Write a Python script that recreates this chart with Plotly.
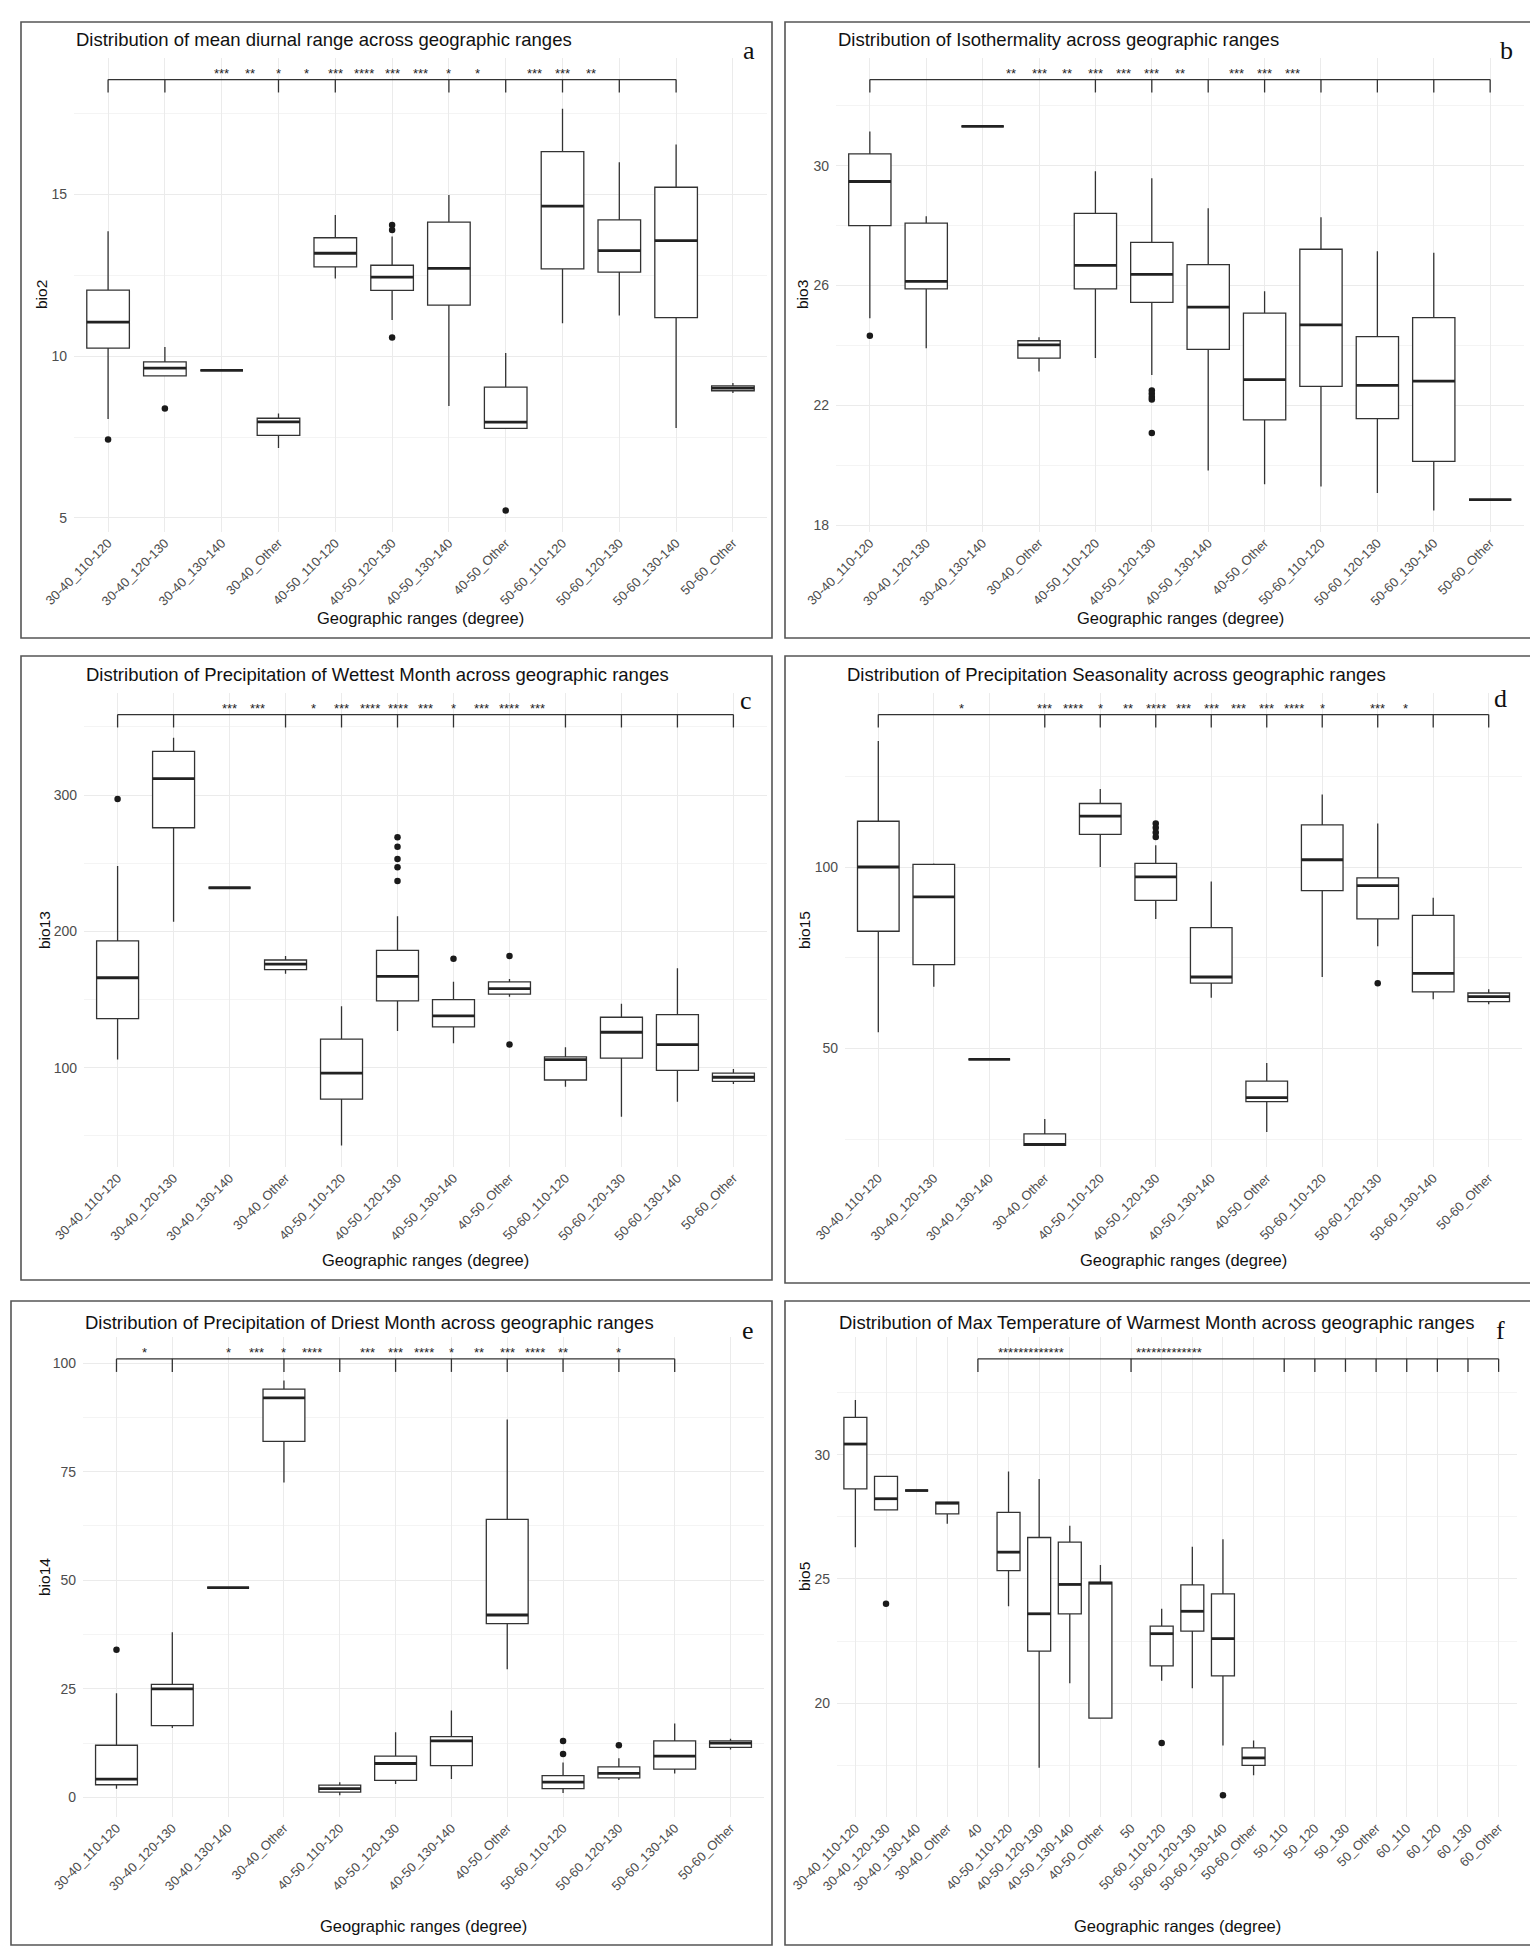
import plotly.graph_objects as go

W, H = 1538, 1949

CATS12 = ["30-40_110-120", "30-40_120-130", "30-40_130-140", "30-40_Other",
          "40-50_110-120", "40-50_120-130", "40-50_130-140", "40-50_Other",
          "50-60_110-120", "50-60_120-130", "50-60_130-140", "50-60_Other"]
CATS22 = ["30-40_110-120", "30-40_120-130", "30-40_130-140", "30-40_Other", "40",
          "40-50_110-120", "40-50_120-130", "40-50_130-140", "40-50_Other", "50",
          "50-60_110-120", "50-60_120-130", "50-60_130-140", "50-60_Other",
          "50_110", "50_120", "50_130", "50_Other", "60_110", "60_120", "60_130", "60_Other"]

# ---------------- panel a : bio2 ----------------
A_LOW = [8.06, 9.39, 9.56, 7.16, 12.40, 11.12, 8.46, 7.77, 11.02, 11.26, 7.78, 8.86]
A_Q1 = [10.25, 9.39, 9.56, 7.55, 12.76, 12.03, 11.58, 7.77, 12.70, 12.60, 11.19, 8.93]
A_MED = [11.05, 9.63, 9.56, 7.97, 13.18, 12.44, 12.71, 7.96, 14.64, 13.26, 13.57, 9.01]
A_Q3 = [12.04, 9.82, 9.56, 8.08, 13.66, 12.81, 14.14, 9.04, 16.32, 14.21, 15.22, 9.08]
A_HIGH = [13.86, 10.28, 9.56, 8.23, 14.36, 13.70, 14.98, 10.10, 17.65, 15.99, 16.54, 9.17]
A_OUT_X = ["30-40_110-120", "30-40_120-130", "40-50_120-130", "40-50_120-130", "40-50_120-130", "40-50_Other"]
A_OUT_Y = [7.42, 8.38, 14.05, 13.90, 10.58, 5.23]
A_TICKS = [0, 1, 3, 4, 6, 7, 8, 9, 10]
A_SIG_POS = [2, 2.5, 3, 3.5, 4, 4.5, 5, 5.5, 6, 6.5, 7.5, 8, 8.5]
A_SIG_LAB = ["***", "**", "*", "*", "***", "****", "***", "***", "*", "*", "***", "***", "**"]
A_BRACKET = 18.55
A_YTICKS = [5, 10, 15]
A_YMINOR = [7.5, 12.5, 17.5]

# ---------------- panel b : bio3 ----------------
B_LOW = [24.91, 23.91, 31.31, 23.13, 23.58, 23.02, 19.83, 19.37, 19.30, 19.08, 18.50, 18.86]
B_Q1 = [28.00, 25.89, 31.31, 23.58, 25.89, 25.44, 23.87, 21.52, 22.64, 21.56, 20.14, 18.86]
B_MED = [29.47, 26.14, 31.31, 24.02, 26.67, 26.37, 25.28, 22.86, 24.69, 22.67, 22.81, 18.86]
B_Q3 = [30.39, 28.08, 31.31, 24.16, 28.41, 27.44, 26.70, 25.08, 27.21, 24.30, 24.93, 18.86]
B_HIGH = [31.14, 28.31, 31.31, 24.28, 29.81, 29.58, 28.58, 25.81, 28.28, 27.14, 27.09, 18.86]
B_OUT_X = ["30-40_110-120", "40-50_120-130", "40-50_120-130", "40-50_120-130", "40-50_120-130", "40-50_120-130"]
B_OUT_Y = [24.33, 22.50, 22.39, 22.28, 22.20, 21.08]
B_TICKS = [0, 4, 5, 6, 7, 8, 9, 10, 11]
B_SIG_POS = [2.5, 3, 3.5, 4, 4.5, 5, 5.5, 6.5, 7, 7.5]
B_SIG_LAB = ["**", "***", "**", "***", "***", "***", "**", "***", "***", "***"]
B_BRACKET = 32.87
B_YTICKS = [18, 22, 26, 30]
B_YMINOR = [20, 24, 28, 32]

# ---------------- panel c : bio13 ----------------
C_LOW = [106, 207, 232, 169, 43, 127, 118, 152, 86, 64, 75, 88]
C_Q1 = [136, 276, 232, 172, 77, 149, 130, 154, 91, 107, 98, 90]
C_MED = [166, 312, 232, 176, 96, 167, 138, 158, 106, 126, 117, 93]
C_Q3 = [193, 332, 232, 179, 121, 186, 150, 163, 108, 137, 139, 96]
C_HIGH = [248, 342, 232, 182, 145, 211, 163, 165, 115, 147, 173, 99]
C_OUT_X = ["30-40_110-120", "40-50_120-130", "40-50_120-130", "40-50_120-130", "40-50_120-130",
           "40-50_120-130", "40-50_130-140", "40-50_Other", "40-50_Other"]
C_OUT_Y = [297, 269, 262, 253, 247, 237, 180, 182, 117]
C_TICKS = [0, 1, 3, 4, 5, 6, 8, 9, 10, 11]
C_SIG_POS = [2, 2.5, 3.5, 4, 4.5, 5, 5.5, 6, 6.5, 7, 7.5]
C_SIG_LAB = ["***", "***", "*", "***", "****", "****", "***", "*", "***", "****", "***"]
C_BRACKET = 359
C_YTICKS = [100, 200, 300]
C_YMINOR = [50, 150, 250, 350]

# ---------------- panel d : bio15 ----------------
D_LOW = [54.5, 67.0, 47.0, 23.3, 100.0, 85.7, 64.0, 27.0, 69.7, 78.2, 63.6, 62.2]
D_Q1 = [82.3, 73.1, 47.0, 23.3, 109.0, 90.8, 68.0, 35.4, 93.5, 85.7, 65.6, 62.9]
D_MED = [100.0, 91.8, 47.0, 23.6, 114.0, 97.3, 69.7, 36.5, 102.0, 94.9, 70.7, 64.3]
D_Q3 = [112.6, 100.7, 47.0, 26.5, 117.5, 101.0, 83.3, 41.0, 111.6, 97.0, 86.7, 65.3]
D_HIGH = [134.7, 101.0, 47.0, 30.6, 121.5, 106.0, 96.0, 46.0, 120.0, 112.0, 91.5, 66.3]
D_OUT_X = ["40-50_120-130", "40-50_120-130", "40-50_120-130", "40-50_120-130", "50-60_120-130"]
D_OUT_Y = [112.0, 110.8, 109.5, 108.3, 68.0]
D_TICKS = [0, 3, 4, 5, 6, 7, 8, 9, 10, 11]
D_SIG_POS = [1.5, 3, 3.5, 4, 4.5, 5, 5.5, 6, 6.5, 7, 7.5, 8, 9, 9.5]
D_SIG_LAB = ["*", "***", "****", "*", "**", "****", "***", "***", "***", "***", "****", "*", "***", "*"]
D_BRACKET = 142
D_YTICKS = [50, 100]
D_YMINOR = [25, 75, 125]

# ---------------- panel e : bio14 ----------------
E_LOW = [2.0, 16.0, 48.3, 72.5, 0.5, 3.1, 4.2, 29.5, 1.0, 4.0, 5.5, 11.0]
E_Q1 = [2.9, 16.5, 48.3, 82.0, 1.2, 3.9, 7.3, 40.0, 2.0, 4.5, 6.5, 11.5]
E_MED = [4.2, 25.0, 48.3, 92.0, 2.0, 7.8, 13.0, 42.0, 3.5, 5.5, 9.5, 12.5]
E_Q3 = [12.0, 26.0, 48.3, 94.0, 2.8, 9.5, 14.0, 64.0, 5.0, 7.0, 13.0, 13.0]
E_HIGH = [24.0, 38.0, 48.3, 96.0, 3.5, 15.0, 20.0, 87.0, 8.0, 9.0, 17.0, 13.5]
E_OUT_X = ["30-40_110-120", "50-60_110-120", "50-60_110-120", "50-60_120-130"]
E_OUT_Y = [34.0, 10.0, 13.0, 12.0]
E_TICKS = [0, 1, 3, 4, 5, 6, 7, 8, 9, 10]
E_SIG_POS = [0.5, 2, 2.5, 3, 3.5, 4.5, 5, 5.5, 6, 6.5, 7, 7.5, 8, 9]
E_SIG_LAB = ["*", "*", "***", "*", "****", "***", "***", "****", "*", "**", "***", "****", "**", "*"]
E_BRACKET = 101
E_YTICKS = [0, 25, 50, 75, 100]
E_YMINOR = [12.5, 37.5, 62.5, 87.5]

# ---------------- panel f : bio5 ----------------
F_CATS = ["30-40_110-120", "30-40_120-130", "30-40_130-140", "30-40_Other",
          "40-50_110-120", "40-50_120-130", "40-50_130-140", "40-50_Other",
          "50-60_110-120", "50-60_120-130", "50-60_130-140", "50-60_Other"]
F_LOW = [26.28, 27.78, 28.56, 27.22, 23.9, 17.4, 20.8, 19.4, 20.9, 20.6, 18.3, 17.1]
F_Q1 = [28.63, 27.78, 28.56, 27.62, 25.34, 22.1, 23.6, 19.4, 21.5, 22.9, 21.1, 17.5]
F_MED = [30.43, 28.23, 28.56, 28.05, 26.08, 23.6, 24.78, 24.83, 22.8, 23.7, 22.6, 17.8]
F_Q3 = [31.50, 29.13, 28.56, 28.09, 27.68, 26.67, 26.48, 24.87, 23.1, 24.76, 24.4, 18.2]
F_HIGH = [32.20, 29.13, 28.56, 28.09, 29.33, 29.02, 27.14, 25.56, 23.8, 26.3, 26.6, 18.5]
F_OUT_X = ["30-40_120-130", "50-60_110-120", "50-60_130-140"]
F_OUT_Y = [24.0, 18.4, 16.3]
F_TICKS = [4, 9, 14, 15, 16, 17, 18, 19, 20, 21]
F_SIG_POS = [5.72, 10.25]
F_SIG_LAB = ["*************", "*************"]
F_BRACKET = 33.86
F_YTICKS = [20, 25, 30]
F_YMINOR = [17.5, 22.5, 27.5, 32.5]

TITLES = ["Distribution of mean diurnal range across geographic ranges",
          "Distribution of Isothermality across geographic ranges",
          "Distribution of Precipitation of Wettest Month across geographic ranges",
          "Distribution of Precipitation Seasonality across geographic ranges",
          "Distribution of Precipitation of Driest Month across geographic ranges",
          "Distribution of Max Temperature of Warmest Month across geographic ranges"]
YLABELS = ["bio2", "bio3", "bio13", "bio15", "bio14", "bio5"]
LETTERS = ["a", "b", "c", "d", "e", "f"]
XTITLE = "Geographic ranges (degree)"

# layout (pixels): plot area, frame, title y, letter pos, x-title y, y-title x
LAYOUT = [
    dict(plot=(66, 759, 50, 524), frame=(13, 764, 14, 630), ty=31, letter=(741, 42), xty=610, ytx=34),
    dict(plot=(828, 1516, 50, 524), frame=(777, 1527, 14, 630), ty=31, letter=(1498, 42), xty=610, ytx=795),
    dict(plot=(76, 759, 685, 1159), frame=(13, 764, 648, 1272), ty=667, letter=(738, 692), xty=1252, ytx=36),
    dict(plot=(837, 1514, 685, 1159), frame=(777, 1527, 648, 1275), ty=667, letter=(1492, 690), xty=1252, ytx=796),
    dict(plot=(75, 756, 1329, 1809), frame=(3, 764, 1293, 1937), ty=1314, letter=(740, 1322), xty=1918, ytx=36),
    dict(plot=(829, 1509, 1329, 1809), frame=(777, 1527, 1293, 1937), ty=1314, letter=(1492, 1322), xty=1918, ytx=796),
]

PANELS = [
    (CATS12, CATS12, A_LOW, A_Q1, A_MED, A_Q3, A_HIGH, A_OUT_X, A_OUT_Y, A_TICKS, A_SIG_POS, A_SIG_LAB, A_BRACKET, A_YTICKS, A_YMINOR),
    (CATS12, CATS12, B_LOW, B_Q1, B_MED, B_Q3, B_HIGH, B_OUT_X, B_OUT_Y, B_TICKS, B_SIG_POS, B_SIG_LAB, B_BRACKET, B_YTICKS, B_YMINOR),
    (CATS12, CATS12, C_LOW, C_Q1, C_MED, C_Q3, C_HIGH, C_OUT_X, C_OUT_Y, C_TICKS, C_SIG_POS, C_SIG_LAB, C_BRACKET, C_YTICKS, C_YMINOR),
    (CATS12, CATS12, D_LOW, D_Q1, D_MED, D_Q3, D_HIGH, D_OUT_X, D_OUT_Y, D_TICKS, D_SIG_POS, D_SIG_LAB, D_BRACKET, D_YTICKS, D_YMINOR),
    (CATS12, CATS12, E_LOW, E_Q1, E_MED, E_Q3, E_HIGH, E_OUT_X, E_OUT_Y, E_TICKS, E_SIG_POS, E_SIG_LAB, E_BRACKET, E_YTICKS, E_YMINOR),
    (CATS22, F_CATS, F_LOW, F_Q1, F_MED, F_Q3, F_HIGH, F_OUT_X, F_OUT_Y, F_TICKS, F_SIG_POS, F_SIG_LAB, F_BRACKET, F_YTICKS, F_YMINOR),
]


def px(x):
    return x / W


def py(y):
    return 1 - y / H


INK = "#333333"
GRID = "#EBEBEB"
GRID_MINOR = "#F4F4F4"
TICKC = "#4D4D4D"

fig = go.Figure()
shapes = []
annotations = []
layout_axes = {}

for k, (cats_all, cats, low, q1, med, q3, high, ox, oy, ticks, spos, slab, bracket, ytk, ymn) in enumerate(PANELS):
    L = LAYOUT[k]
    sfx = "" if k == 0 else str(k + 1)
    xr, yr = "x" + sfx, "y" + sfx
    m = min(min(low), min(oy))
    D = bracket - m
    yrange = [m - 0.05 * D, bracket + 0.05 * D]
    n = len(cats_all)

    fig.add_trace(go.Box(
        x=cats, q1=q1, median=med, q3=q3, lowerfence=low, upperfence=high,
        xaxis=xr, yaxis=yr, width=0.75, whiskerwidth=0, boxpoints=False,
        fillcolor="white", line=dict(color=INK, width=1.3),
        showlegend=False, hoverinfo="skip"))
    fig.add_trace(go.Scatter(
        x=ox, y=oy, mode="markers", xaxis=xr, yaxis=yr,
        marker=dict(color="#1A1A1A", size=6.5), showlegend=False, hoverinfo="skip"))

    # thick median lines
    for c, mv in zip(cats, med):
        i = cats_all.index(c)
        shapes.append(dict(type="line", xref=xr, yref=yr, x0=i - 0.375, x1=i + 0.375,
                           y0=mv, y1=mv, line=dict(color="#222222", width=2.8), layer="above"))
    # significance bracket
    tl = 0.03 * D
    shapes.append(dict(type="line", xref=xr, yref=yr, x0=ticks[0], x1=ticks[-1],
                       y0=bracket, y1=bracket, line=dict(color=INK, width=1.3)))
    for t in ticks:
        shapes.append(dict(type="line", xref=xr, yref=yr, x0=t, x1=t,
                           y0=bracket, y1=bracket - tl, line=dict(color=INK, width=1.3)))
    for p, s in zip(spos, slab):
        annotations.append(dict(x=p, y=bracket, xref=xr, yref=yr, text=s, showarrow=False,
                                yanchor="bottom", yshift=-3,
                                font=dict(family="Liberation Sans, Arial", size=13, color="#222222")))

    x0, x1, ytop, ybot = L["plot"]
    layout_axes["xaxis" + sfx] = dict(
        domain=[px(x0), px(x1)], anchor=yr, type="category", automargin=False,
        categoryorder="array", categoryarray=cats_all, tickvals=cats_all,
        range=[-0.6, n - 0.4], showgrid=True, gridcolor=GRID, gridwidth=1.1,
        zeroline=False, showline=False, ticks="", tickangle=-45,
        tickfont=dict(family="Liberation Sans, Arial", size=13, color=TICKC))
    layout_axes["yaxis" + sfx] = dict(
        domain=[py(ybot), py(ytop)], anchor=xr, range=yrange, automargin=False,
        tickmode="array", tickvals=ytk, showgrid=True, gridcolor=GRID, gridwidth=1.1,
        minor=dict(tickmode="array", tickvals=ymn, showgrid=True, gridcolor=GRID_MINOR,
                   gridwidth=0.8, ticks=""),
        zeroline=False, showline=False, ticks="", ticklabelstandoff=6,
        tickfont=dict(family="Liberation Sans, Arial", size=14, color=TICKC))

    # frame
    fx0, fx1, fy0, fy1 = L["frame"]
    shapes.append(dict(type="rect", xref="paper", yref="paper", x0=px(fx0), x1=px(fx1),
                       y0=py(fy1), y1=py(fy0), line=dict(color="#555555", width=1.6),
                       fillcolor="rgba(0,0,0,0)", layer="above"))
    # title (left-aligned with the plot panel)
    annotations.append(dict(x=px(x0), y=py(L["ty"]), xref="paper", yref="paper",
                            text=TITLES[k], showarrow=False, xanchor="left", yanchor="middle",
                            font=dict(family="Liberation Sans, Arial", size=18.5, color="#111111")))
    # panel letter
    lx, ly = L["letter"]
    annotations.append(dict(x=px(lx), y=py(ly), xref="paper", yref="paper",
                            text=LETTERS[k], showarrow=False, xanchor="center", yanchor="middle",
                            font=dict(family="Liberation Serif, Times New Roman", size=26, color="#111111")))
    # x title centred on the panel
    annotations.append(dict(x=px((x0 + x1) / 2), y=py(L["xty"]), xref="paper", yref="paper",
                            text=XTITLE, showarrow=False, xanchor="center", yanchor="middle",
                            font=dict(family="Liberation Sans, Arial", size=16.5, color="#111111")))
    # y title
    annotations.append(dict(x=px(L["ytx"]), y=py((ytop + ybot) / 2), xref="paper", yref="paper",
                            text=YLABELS[k], showarrow=False, xanchor="center", yanchor="middle",
                            textangle=-90,
                            font=dict(family="Liberation Sans, Arial", size=15.5, color="#111111")))

fig.update_layout(
    width=W, height=H, autosize=False,
    margin=dict(l=0, r=0, t=0, b=0, pad=0, autoexpand=False),
    paper_bgcolor="white", plot_bgcolor="white",
    shapes=shapes, annotations=annotations, showlegend=False,
    **layout_axes)

fig.write_html("out.html")
